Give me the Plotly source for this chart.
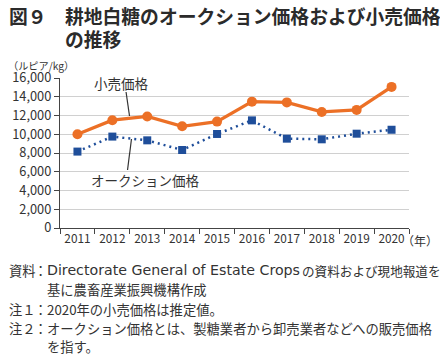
import plotly.graph_objects as go

years = ["2011", "2012", "2013", "2014", "2015", "2016", "2017", "2018", "2019", "2020"]
retail = [10000, 11500, 11900, 10850, 11350, 13480, 13400, 12380, 12600, 15050]
auction = [8150, 9750, 9350, 8320, 10030, 11480, 9530, 9460, 10060, 10480]
y_ticks = [0, 2000, 4000, 6000, 8000, 10000, 12000, 14000, 16000]

FONT = "Noto Sans CJK JP"
LATIN = "DejaVu Sans"
W, H = 440, 355
L, R, T, B = 55, 409, 78, 228

def px(x):
    return (x - L) / (R - L)

def py(y):
    return (B - y) / (B - T)

fig = go.Figure()
fig.add_trace(go.Scatter(
    x=years, y=auction, mode="lines+markers",
    line=dict(color="#1F4E9A", width=2.5, dash="2px,4px"),
    marker=dict(symbol="square", size=8, color="#1F4E9A"),
    showlegend=False))
fig.add_trace(go.Scatter(
    x=years, y=retail, mode="lines+markers",
    line=dict(color="#EC7026", width=3.3),
    marker=dict(symbol="circle", size=10, color="#EC7026"),
    showlegend=False))

fig.update_layout(
    width=W, height=H,
    margin=dict(l=L, r=W - R, t=T, b=H - B, pad=0),
    paper_bgcolor="white", plot_bgcolor="white",
    font=dict(family=FONT, color="#333333", size=11),
    xaxis=dict(type="category", range=[-0.5, 9.5], tickson="boundaries",
               ticks="outside", ticklen=5, tickcolor="#444", showline=True,
               linecolor="#444", linewidth=1.2, showgrid=False, tickangle=0,
               tickfont=dict(size=11.8, family=FONT, color="#333")),
    yaxis=dict(range=[0, 16000], tickvals=y_ticks, tickformat=",",
               ticks="outside", ticklen=5, tickcolor="#444", showline=True,
               linecolor="#444", linewidth=1.2, gridcolor="#D0D0D0",
               gridwidth=1, zeroline=False,
               tickfont=dict(size=12.8, family=FONT, color="#333")),
)

anns = []
def text(x, y, s, size, anchor="left", bold=False, color="#333333", family=FONT):
    anns.append(dict(xref="paper", yref="paper", x=px(x), y=py(y), text=("<b>%s</b>" % s) if bold else s,
                     showarrow=False, xanchor=anchor, yanchor="middle",
                     font=dict(family=family, size=size, color=color)))

text(1, 15, "図９", 18.8, bold=True, color="#2b2b2b")
text(58, 15, "耕地白糖のオークション価格および小売価格", 18.8, bold=True, color="#2b2b2b")
text(58, 38, "の推移", 18.8, bold=True, color="#2b2b2b")
text(0, 65, "（ルピア/kg）", 10.2)
text(440, 240, "（年）", 12, anchor="right")

text(117, 83, "小売価格", 13.5, anchor="center")
text(142, 180, "オークション価格", 13.5, anchor="center")

FS = 13.3
text(1, 270, "資料", FS)
text(27, 270, "：", FS)
text(40, 270, "Directorate General of Estate Crops", 14.2, family=LATIN)
text(298, 270, "の資料および現地報道を", 12.6)
text(40, 289.5, "基に農畜産業振興機構作成", FS)
text(1, 309, "注１", FS)
text(27, 309, "：", FS)
text(40, 309, "2020年の小売価格は推定値。", FS)
text(1, 328.5, "注２", FS)
text(27, 328.5, "：", FS)
text(40, 328.5, "オークション価格とは、製糖業者から卸売業者などへの販売価格", 13.3)
text(40, 346.5, "を指す。", FS)

fig.update_layout(annotations=anns)

shapes = [
    dict(type="line", xref="paper", yref="paper", x0=px(122), y0=py(92), x1=px(125.5), y1=py(116),
         line=dict(color="#333", width=1.2)),
    dict(type="line", xref="paper", yref="paper", x0=px(127.5), y0=py(139), x1=px(123.5), y1=py(170),
         line=dict(color="#333", width=1.2)),
]
fig.update_layout(shapes=shapes)

fig.write_html("out.html", config={"displayModeBar": False},
               post_script="document.body.style.margin='0';document.body.style.overflow='hidden';")
